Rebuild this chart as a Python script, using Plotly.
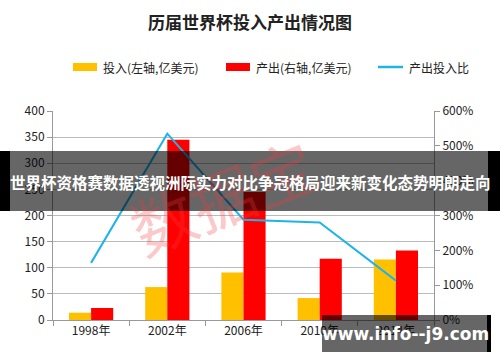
import plotly.graph_objects as go

years = ["1998年", "2002年", "2006年", "2010年", "2014年"]
invest = [14, 63, 91, 42, 116]
output = [23, 345, 245, 117, 133]
ratio = [1.64, 5.35, 2.88, 2.80, 1.13]

title_text = "历届世界杯投入产出情况图"
legend_names = ["投入(左轴,亿美元)", "产出(右轴,亿美元)", "产出投入比"]
banner_text = "世界杯资格赛数据透视洲际实力对比争冠格局迎来新变化态势明朗走向"
site_text = "www.info--j9.com"
stamp_text = "数据宝"

W, H = 500, 362
L, R, T, B = 53, 66, 111, 42
PW, PH = W - L - R, H - T - B

def px(x):
    return (x - L) / PW

def py(y):
    return (H - B - y) / PH

FONT = "Noto Sans CJK SC"
YELLOW = "#FFC000"
RED = "#FF0000"
BLUE = "#1EB4EA"

fig = go.Figure()
fig.add_bar(x=years, y=invest, name=legend_names[0], marker_color=YELLOW, marker_line_width=0)
fig.add_bar(x=years, y=output, name=legend_names[1], marker_color=RED, marker_line_width=0)
fig.add_scatter(x=years, y=ratio, name=legend_names[2], yaxis="y2", mode="lines",
                line=dict(color=BLUE, width=2))

shapes = []
annotations = []

# manual legend
leg_y = 67
items = [(73, 97, YELLOW, "bar", legend_names[0]),
         (226, 250, RED, "bar", legend_names[1]),
         (378, 403, BLUE, "line", legend_names[2])]
for x0, x1, col, kind, name in items:
    if kind == "bar":
        shapes.append(dict(type="rect", xref="paper", yref="paper",
                           x0=px(x0), x1=px(x1), y0=py(leg_y + 4), y1=py(leg_y - 4),
                           fillcolor=col, line_width=0))
    else:
        shapes.append(dict(type="line", xref="paper", yref="paper",
                           x0=px(x0), x1=px(x1), y0=py(leg_y), y1=py(leg_y),
                           line=dict(color=col, width=2.5)))
    annotations.append(dict(text=name, xref="paper", yref="paper", x=px(x1 + 4), y=py(leg_y),
                            xanchor="left", yanchor="middle", showarrow=False,
                            font=dict(family=FONT, size=12, color="#222")))

# faint stamp watermark
annotations.append(dict(text=stamp_text, xref="paper", yref="paper", x=px(222), y=py(195),
                        showarrow=False, textangle=-22,
                        font=dict(family=FONT, size=64, color="rgba(240,60,60,0.28)")))

# banner overlay
shapes.append(dict(type="rect", xref="paper", yref="paper", x0=px(0), x1=px(500),
                   y0=py(211), y1=py(151), fillcolor="rgba(0,0,0,0.6)", line_width=0, layer="above"))
shapes.append(dict(type="rect", xref="paper", yref="paper", x0=px(0), x1=px(10),
                   y0=py(211), y1=py(151), fillcolor="black", line_width=0, layer="above"))
shapes.append(dict(type="rect", xref="paper", yref="paper", x0=px(488), x1=px(500),
                   y0=py(211), y1=py(151), fillcolor="black", line_width=0, layer="above"))
annotations.append(dict(text="<b>" + banner_text + "</b>", xref="paper", yref="paper",
                        x=px(250), y=py(182), showarrow=False, xanchor="center", yanchor="middle",
                        font=dict(family=FONT, size=15.5, color="white")))

# site watermark box
shapes.append(dict(type="rect", xref="paper", yref="paper", x0=px(322), x1=px(490),
                   y0=py(352), y1=py(315), fillcolor="rgba(0,0,0,0.6)", line_width=0, layer="above"))
shapes.append(dict(type="rect", xref="paper", yref="paper", x0=px(487), x1=px(491),
                   y0=py(352), y1=py(315), fillcolor="black", line_width=0, layer="above"))
annotations.append(dict(text="<b>" + site_text + "</b>", xref="paper", yref="paper",
                        x=px(405), y=py(334), showarrow=False, xanchor="center", yanchor="middle",
                        font=dict(family="DejaVu Sans", size=17, color="white")))

fig.update_layout(
    width=W, height=H,
    margin=dict(l=L, r=R, t=T, b=B, pad=0),
    paper_bgcolor="white", plot_bgcolor="white",
    title=dict(text="<b>" + title_text + "</b>", x=0.5, xanchor="center", y=1 - 23 / H,
               yanchor="middle", font=dict(family=FONT, size=17, color="#222")),
    showlegend=False,
    barmode="group", bargap=0.42, bargroupgap=0,
    font=dict(family=FONT, size=12, color="#222"),
    xaxis=dict(type="category", showline=True, linecolor="#999", linewidth=1,
               ticks="outside", tickson="boundaries", ticklen=5, tickcolor="#999",
               showgrid=False, tickfont=dict(size=12, color="#222")),
    yaxis=dict(range=[0, 400], dtick=50, showgrid=True, gridcolor="#BBBBBB", gridwidth=1,
               showline=True, linecolor="#999", ticks="outside", ticklen=5, tickcolor="#999",
               zeroline=False, tickfont=dict(size=12, color="#222")),
    yaxis2=dict(range=[0, 6], dtick=1, tickformat=".0%", overlaying="y", side="right",
                showgrid=False, showline=True, linecolor="#999", ticks="outside", ticklen=5,
                tickcolor="#999", zeroline=False, tickfont=dict(size=12, color="#222")),
    shapes=shapes, annotations=annotations,
)

fig.write_html("out.html", config={"displayModeBar": False},
               post_script="document.body.style.margin='0';")
